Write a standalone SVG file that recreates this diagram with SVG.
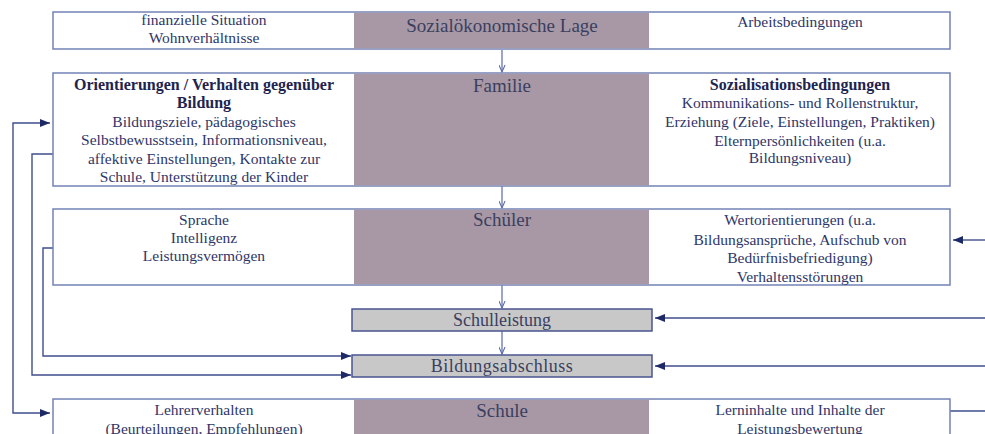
<svg xmlns="http://www.w3.org/2000/svg" width="985" height="434" viewBox="0 0 985 434">
<defs>
<style>
.box{fill:#ffffff;stroke:#7382b4;stroke-width:1.5}
.mid{fill:#a898a6;stroke:none}
.res{fill:#c8c8c8;stroke:#4a5690;stroke-width:1.5}
text{font-family:'Liberation Serif','DejaVu Serif','Times New Roman',serif;fill:#2e3668;text-anchor:middle}
.t{font-size:15.5px}
.h{font-size:19px;fill:#3a3f60}
.b{font-size:16px;font-weight:bold;fill:#1e2450}
.r{font-size:18px;fill:#3a3f60}
.con{fill:none;stroke:#3f4e8c;stroke-width:1.4}
.dn{fill:none;stroke:#5a6aa6;stroke-width:1.2}
</style>
<marker id="ah" viewBox="0 0 10 8" refX="10" refY="4" markerWidth="10" markerHeight="8" markerUnits="userSpaceOnUse" orient="auto-start-reverse">
<path d="M0,0 L10,4 L0,8 z" fill="#1e2a66"/>
</marker>
<marker id="av" viewBox="0 0 10 8" refX="9" refY="4" markerWidth="9" markerHeight="7" markerUnits="userSpaceOnUse" orient="auto">
<path d="M1,0.5 L9,4 L1,7.5" fill="none" stroke="#5a6aa6" stroke-width="1.2"/>
</marker>
</defs>
<rect width="985" height="434" fill="#ffffff"/>

<g id="connectors">
<path class="dn" d="M502,50 V72" marker-end="url(#av)"/>
<path class="dn" d="M502,186 V208" marker-end="url(#av)"/>
<path class="dn" d="M502,285 V308" marker-end="url(#av)"/>
<path class="dn" d="M502,331 V354" marker-end="url(#av)"/>
<path class="con" d="M50,123 H13 V413 H50" marker-start="url(#ah)" marker-end="url(#ah)"/>
<path class="con" d="M53,154 H32 V375 H351" marker-end="url(#ah)"/>
<path class="con" d="M53,248 H43 V356 H351" marker-end="url(#ah)"/>
<path class="con" d="M985,240 H953" marker-end="url(#ah)"/>
<path class="con" d="M985,318 H655" marker-end="url(#ah)"/>
<path class="con" d="M985,366 H655" marker-end="url(#ah)"/>
<path class="con" d="M950,411 H985"/>
</g>

<g id="sozialoekonomische-lage">
<rect class="box" x="53" y="12" width="897" height="37"/>
<rect class="mid" x="354" y="12.8" width="295" height="35.5"/>
<text class="t" x="204" y="25">finanzielle Situation</text>
<text class="t" x="204" y="43">Wohnverhältnisse</text>
<text class="h" x="502" y="32">Sozialökonomische Lage</text>
<text class="t" x="800" y="27">Arbeitsbedingungen</text>
</g>

<g id="familie">
<rect class="box" x="53" y="73" width="897" height="113"/>
<rect class="mid" x="354" y="73.8" width="295" height="111.5"/>
<text class="b" x="204" y="90">Orientierungen / Verhalten gegenüber</text>
<text class="b" x="204" y="108">Bildung</text>
<text class="t" x="204" y="127">Bildungsziele, pädagogisches</text>
<text class="t" x="204" y="145">Selbstbewusstsein, Informationsniveau,</text>
<text class="t" x="204" y="164">affektive Einstellungen, Kontakte zur</text>
<text class="t" x="204" y="182">Schule, Unterstützung der Kinder</text>
<text class="h" x="502" y="92">Familie</text>
<text class="b" x="800" y="90">Sozialisationsbedingungen</text>
<text class="t" x="800" y="108">Kommunikations- und Rollenstruktur,</text>
<text class="t" x="800" y="127">Erziehung (Ziele, Einstellungen, Praktiken)</text>
<text class="t" x="800" y="146">Elternpersönlichkeiten (u.a.</text>
<text class="t" x="800" y="163">Bildungsniveau)</text>
</g>

<g id="schueler">
<rect class="box" x="53" y="209" width="897" height="76"/>
<rect class="mid" x="354" y="209.8" width="295" height="74.5"/>
<text class="t" x="204" y="225">Sprache</text>
<text class="t" x="204" y="243">Intelligenz</text>
<text class="t" x="204" y="261">Leistungsvermögen</text>
<text class="h" x="502" y="226">Schüler</text>
<text class="t" x="800" y="225">Wertorientierungen (u.a.</text>
<text class="t" x="800" y="245">Bildungsansprüche, Aufschub von</text>
<text class="t" x="800" y="263">Bedürfnisbefriedigung)</text>
<text class="t" x="800" y="282">Verhaltensstörungen</text>
</g>

<g id="schulleistung">
<rect class="res" x="352" y="309" width="300" height="22"/>
<text class="r" x="502" y="326">Schulleistung</text>
</g>

<g id="bildungsabschluss">
<rect class="res" x="352" y="355" width="300" height="22"/>
<text class="r" x="502" y="372" letter-spacing="0.5">Bildungsabschluss</text>
</g>

<g id="schule">
<rect class="box" x="53" y="399" width="897" height="50"/>
<rect class="mid" x="354" y="399.8" width="295" height="40"/>
<text class="t" x="204" y="415">Lehrerverhalten</text>
<text class="t" x="204" y="434">(Beurteilungen, Empfehlungen)</text>
<text class="h" x="502" y="417">Schule</text>
<text class="t" x="800" y="415">Lerninhalte und Inhalte der</text>
<text class="t" x="800" y="434">Leistungsbewertung</text>
</g>
</svg>
